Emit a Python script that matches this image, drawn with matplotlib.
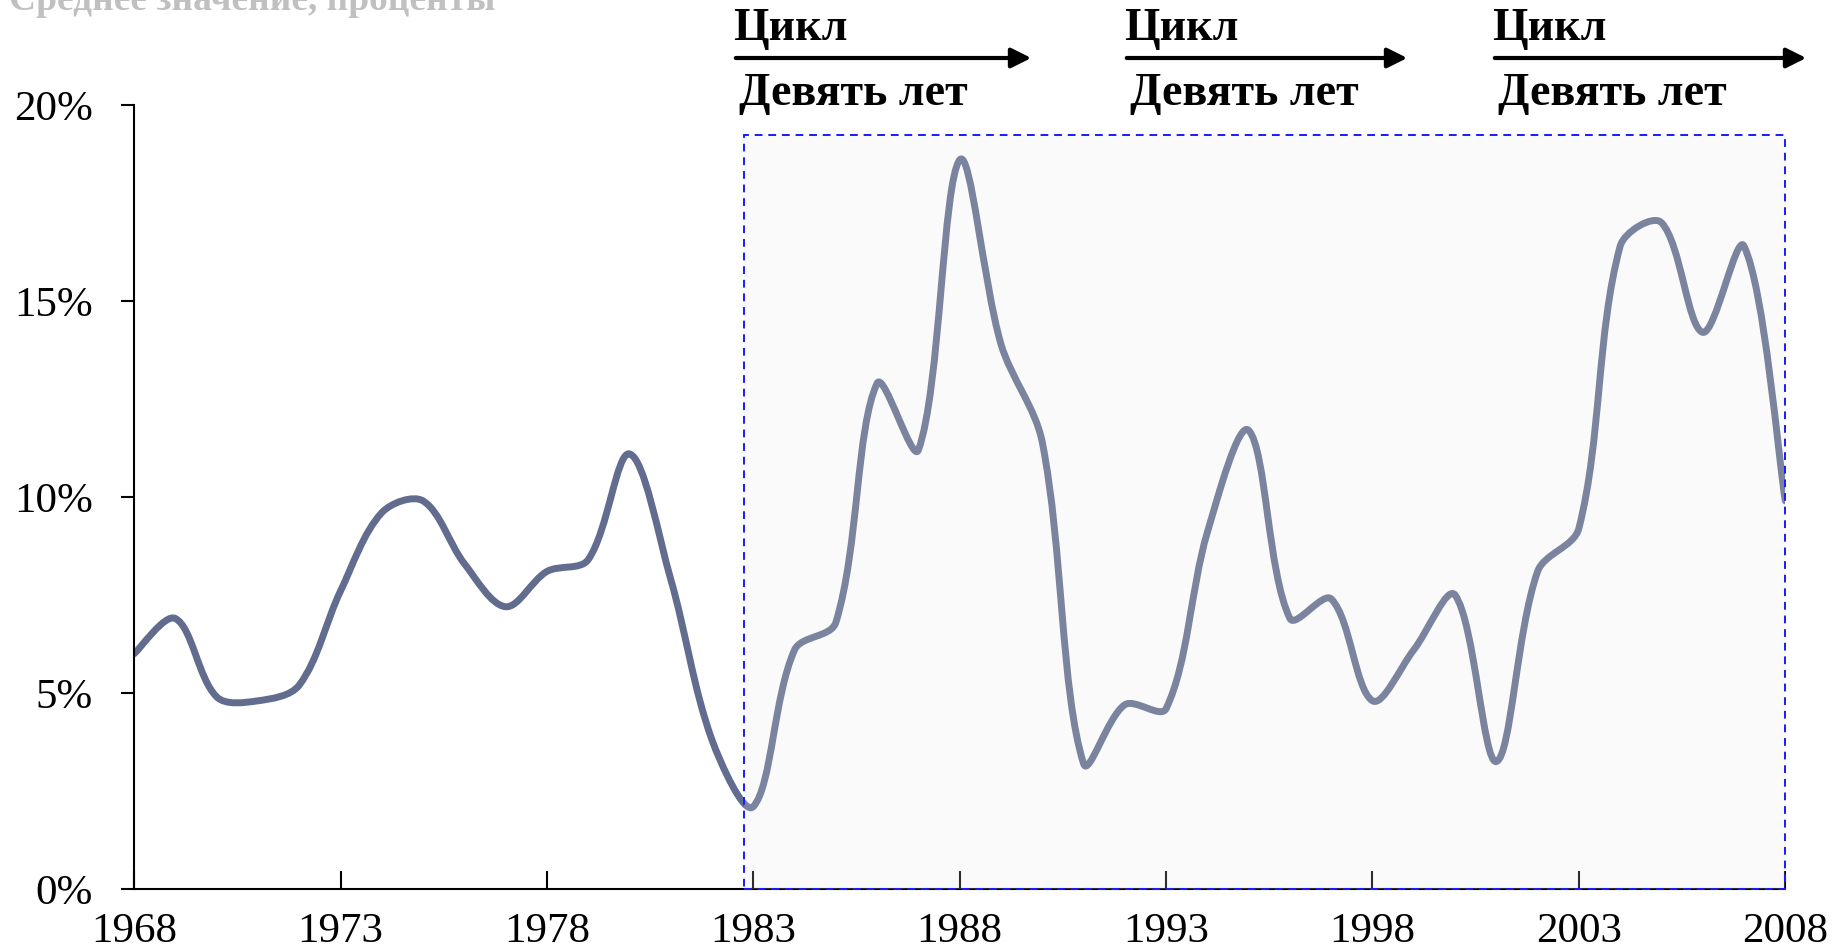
import numpy as np
import matplotlib as mpl
mpl.use('Agg')
import matplotlib.pyplot as plt
from matplotlib.path import Path
from matplotlib.patches import PathPatch, Rectangle, FancyArrowPatch

plt.rcParams['font.family'] = ['Liberation Serif', 'DejaVu Serif']

years = np.arange(1968, 2009)
values = [6.0, 6.9, 4.9, 4.8, 5.2, 7.6, 9.6, 9.9, 8.3, 7.2,
          8.1, 8.4, 11.1, 7.9, 3.8, 2.1, 6.1, 6.8, 12.9, 11.2,
          18.6, 13.9, 11.4, 3.2, 4.7, 4.6, 9.1, 11.7, 6.9, 7.4,
          4.8, 6.1, 7.5, 3.25, 8.1, 9.2, 16.4, 17.0, 14.2, 16.4, 9.9]

yticks = [0, 5, 10, 15, 20]
ytick_labels = ['0%', '5%', '10%', '15%', '20%']
xticks = [1968, 1973, 1978, 1983, 1988, 1993, 1998, 2003, 2008]

title = 'Среднее значение, проценты'
cycle_label = 'Цикл'
period_label = 'Девять лет'

shade_start = 1982.78
shade_top = 19.23

line_color = '#616c8e'


def smooth_path(ax, x, y):
    # Excel-like smoothed line: bezier control points weighted by the
    # on-screen lengths of the neighbouring segments
    to_px = ax.transData
    pts = to_px.transform(np.column_stack([x, y]))
    n = len(pts)
    seg = np.hypot(*np.diff(pts, axis=0).T)
    verts = [pts[0]]
    codes = [Path.MOVETO]
    for i in range(n - 1):
        p0 = pts[max(i - 1, 0)]
        p1, p2 = pts[i], pts[i + 1]
        p3 = pts[min(i + 2, n - 1)]
        d01 = seg[i - 1] if i > 0 else seg[i]
        d12 = seg[i]
        d23 = seg[i + 1] if i + 1 < n - 1 else seg[i]
        c1 = p1 + (p2 - p0) * d12 / (d01 + d12) / 3
        c2 = p2 - (p3 - p1) * d12 / (d12 + d23) / 3
        verts += [c1, c2, p2]
        codes += [Path.CURVE4] * 3
    verts = to_px.inverted().transform(np.array(verts))
    return Path(verts, codes)


fig = plt.figure(figsize=(18.32, 9.46), dpi=100)
ax = fig.add_axes([0.0732, 0.0603, 0.9013, 0.8287])
ax.set_xlim(1968, 2008)
ax.set_ylim(0, 20)

curve = PathPatch(smooth_path(ax, years, values), facecolor='none', edgecolor=line_color,
                  lw=5.0, capstyle='round', joinstyle='round', zorder=2)
ax.add_patch(curve)

# shaded period on top of the line (lightens the line a bit, as in the source)
ax.add_patch(Rectangle((shade_start, 0), years[-1] - shade_start, shade_top,
                       facecolor='#e8e8e8', alpha=0.2, edgecolor='none', zorder=3,
                       clip_on=False))
ax.add_patch(Rectangle((shade_start, 0), years[-1] - shade_start, shade_top,
                       facecolor='none', edgecolor='#1a1aff', lw=1.4,
                       linestyle=(0, (4, 3)), zorder=4, clip_on=False))

ax.set_xticks(xticks)
ax.set_yticks(yticks)
ax.set_yticklabels(ytick_labels)
ax.tick_params(axis='x', direction='in', length=13, width=1.5, pad=17, labelsize=31)
ax.tick_params(axis='y', direction='out', length=9.5, width=1.5, pad=20, labelsize=31)
for s in ['top', 'right']:
    ax.spines[s].set_visible(False)
for s in ['left', 'bottom']:
    ax.spines[s].set_linewidth(1.5)

fig.text(0.005, 0.9894, title, color='#c0c0c0', fontsize=27, fontweight='bold',
         ha='left', va='baseline')

# cycle arrows
arrows = [(733, 1034), (1124, 1410), (1492, 1809)]
W, H = 1832, 946
for x0, x1 in arrows:
    fig.add_artist(FancyArrowPatch(
        (x0 / W, 1 - 58 / H), (x1 / W, 1 - 58 / H), transform=fig.transFigure,
        arrowstyle='-|>,head_length=12,head_width=6', mutation_scale=1,
        lw=3, color='black'))
    fig.text(x0 / W, 1 - 29 / H, cycle_label, fontsize=33, fontweight='bold',
             ha='left', va='center')
    fig.text((x0 + 6) / W, 1 - 94 / H, period_label, fontsize=33, fontweight='bold',
             ha='left', va='center')

fig.savefig('out.png', dpi=100)
